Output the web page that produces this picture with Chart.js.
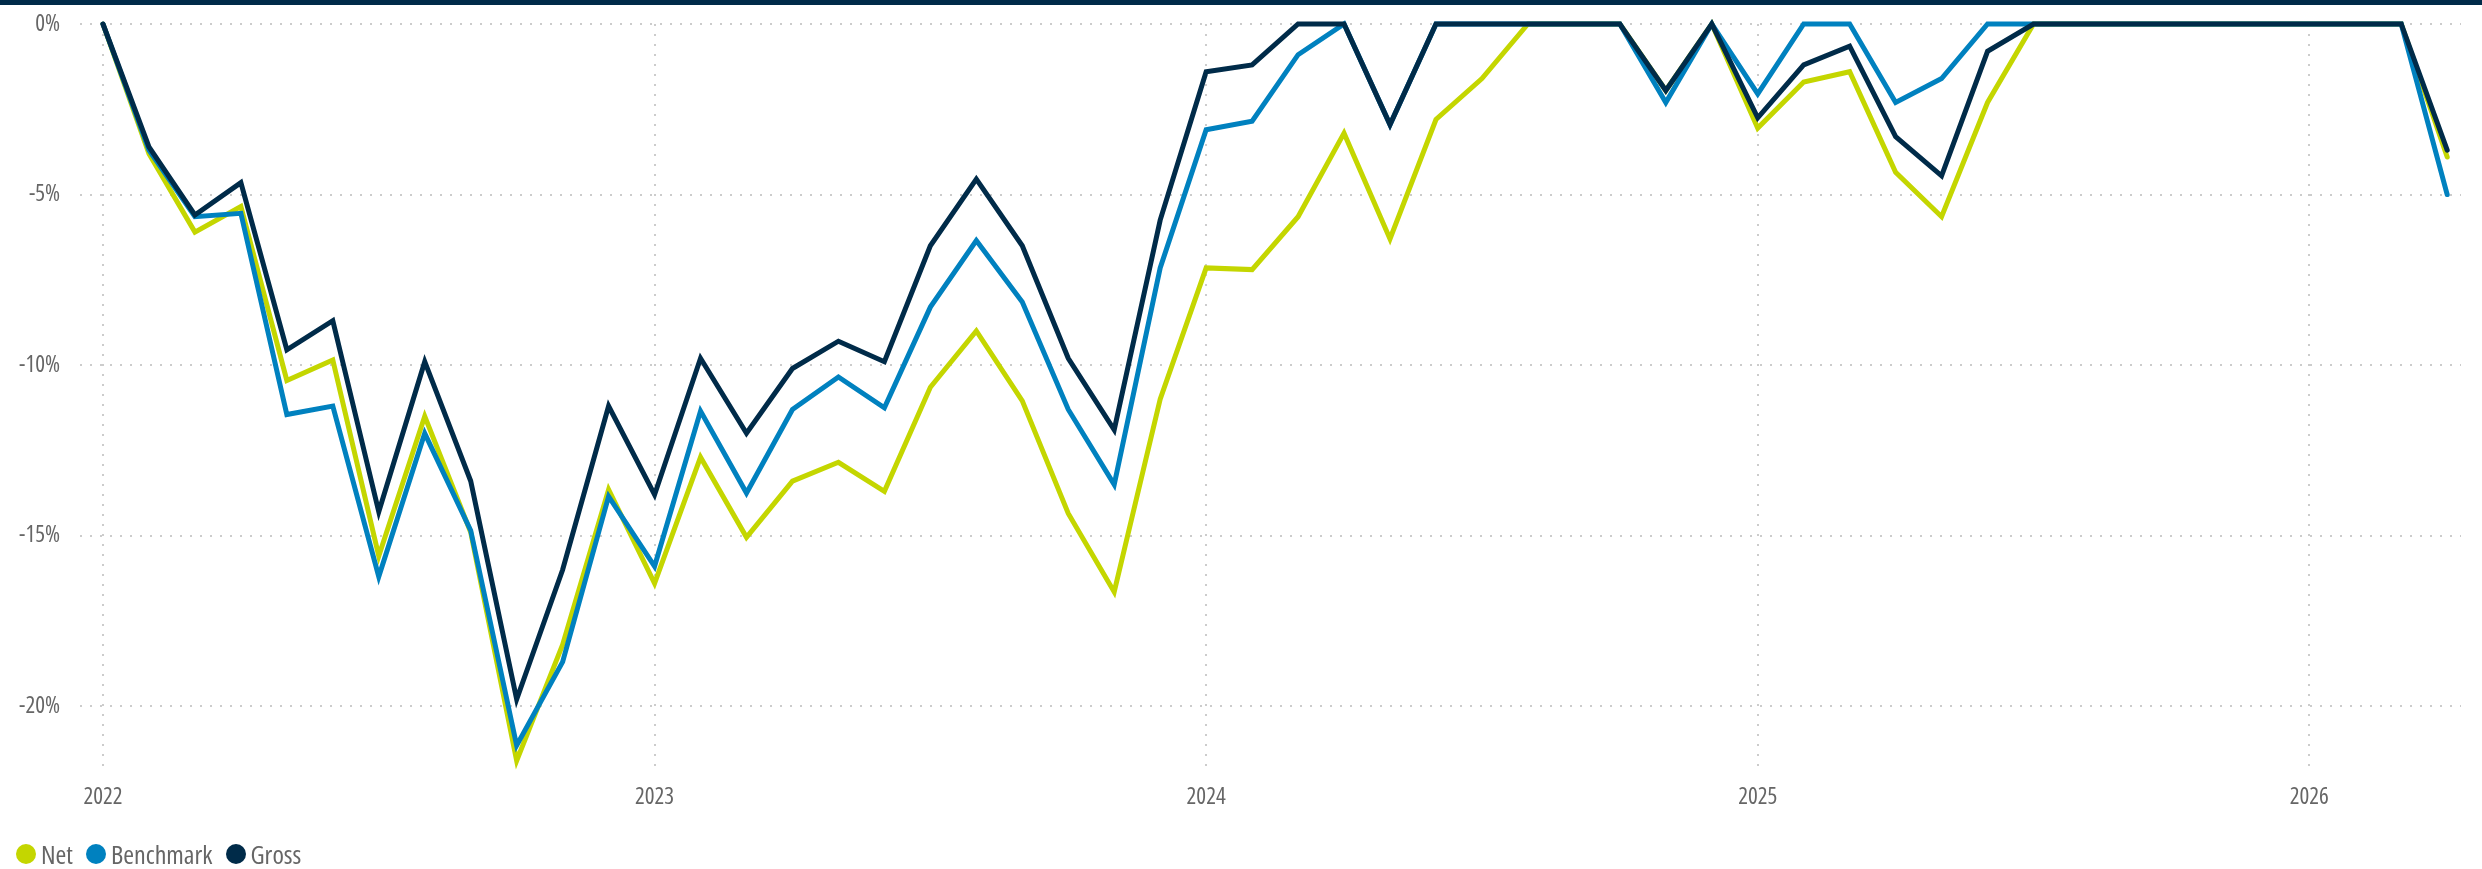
<!DOCTYPE html>
<html>
<head>
<meta charset="utf-8">
<script src="https://cdn.jsdelivr.net/npm/chart.js@4.4.1/dist/chart.umd.min.js"></script>
<style>
	html, body { margin: 0; padding: 0; background: #fff; }
	body { width: 2482px; height: 869px; position: relative; overflow: hidden; }
	#wrap { position: absolute; left: 0; top: 0; width: 2482px; height: 869px; }
	#topbar { position: absolute; left: 0; top: 0; width: 100%; height: 5px; background: #002b49; }
	#legend { position: absolute; left: 16px; top: 839px; display: flex; align-items: center;
		font-family: "Open Sans", sans-serif; font-stretch: 75%; font-size: 26px; line-height: 30px; color: #666; }
	#legend .item { display: flex; align-items: center; margin-right: 13px; }
	#legend .dot { width: 20px; height: 20px; border-radius: 50%; margin-right: 5px; }
</style>
</head>
<body>
<div id="wrap"><canvas id="drawdownChart"></canvas></div>
<div id="topbar"></div>
<div id="legend"></div>

<script>
// tick labels
const xYears = ['2022', '2023', '2024', '2025', '2026'];
const xTickPos = [0, 12, 24, 36, 48]; // month index of each January
const yTicks = [0, -5, -10, -15, -20];

// monthly drawdown (%), Jan 2022 -> Apr 2026
const gross = [
	0, -3.6, -5.6, -4.65, -9.55, -8.7, -14.3, -9.9, -13.4, -19.8,
	-16.0, -11.2, -13.8, -9.8, -12.0, -10.1, -9.3, -9.9, -6.5, -4.55,
	-6.5, -9.8, -11.9, -5.75, -1.4, -1.2, 0, 0, -2.95, 0,
	0, 0, 0, 0, -1.95, 0, -2.75, -1.2, -0.65, -3.3,
	-4.45, -0.8, 0, 0, 0, 0, 0, 0, 0, 0,
	0, -3.7
];
const benchmark = [
	0, -3.7, -5.65, -5.55, -11.45, -11.2, -16.2, -12.0, -14.85, -21.15,
	-18.7, -13.85, -15.9, -11.35, -13.75, -11.3, -10.35, -11.25, -8.3, -6.35,
	-8.15, -11.3, -13.5, -7.15, -3.1, -2.85, -0.9, 0, -2.95, 0,
	0, 0, 0, 0, -2.3, 0, -2.05, 0, 0, -2.3,
	-1.6, 0, 0, 0, 0, 0, 0, 0, 0, 0,
	0, -5.0
];
const net = [
	0, -3.8, -6.1, -5.35, -10.45, -9.85, -15.6, -11.5, -14.9, -21.6,
	-18.2, -13.65, -16.4, -12.7, -15.05, -13.4, -12.85, -13.7, -10.65, -9.0,
	-11.05, -14.35, -16.65, -11.0, -7.15, -7.2, -5.65, -3.2, -6.3, -2.8,
	-1.6, 0, 0, 0, -1.95, 0, -3.05, -1.7, -1.4, -4.35,
	-5.65, -2.3, 0, 0, 0, 0, 0, 0, 0, 0,
	0, -3.9
];

// condensed Open Sans (canvas accepts the stretch keyword in the font string)
const tickFont = { family: '"Open Sans", sans-serif', size: 23, weight: '400 condensed' };

function toPoints(values) {
	return values.map((v, i) => ({ x: i, y: v }));
}

function lineDataset(label, values, color) {
	return {
		label: label,
		data: toPoints(values),
		borderColor: color,
		backgroundColor: color,
		borderWidth: 5,
		borderCapStyle: 'round',
		pointRadius: 0,
		tension: 0,
		clip: false
	};
}

// first dataset is drawn on top
const datasets = [
	lineDataset('Gross', gross, '#002b49'),
	lineDataset('Benchmark', benchmark, '#0081bf'),
	lineDataset('Net', net, '#c4d600')
];

const ctx = document.getElementById('drawdownChart').getContext('2d');

const chart = new Chart(ctx, {
	type: 'line',
	data: { datasets: datasets },
	options: {
		animation: false,
		responsive: true,
		maintainAspectRatio: false,
		layout: {
			padding: { left: 0, right: 21, top: 24, bottom: 49 }
		},
		plugins: {
			legend: { display: false },
			tooltip: { enabled: false }
		},
		scales: {
			x: {
				type: 'linear',
				min: -0.5,
				max: 51.3,
				afterBuildTicks: axis => {
					axis.ticks = xTickPos.map(v => ({ value: v }));
				},
				ticks: {
					autoSkip: false,
					maxRotation: 0,
					padding: 9,
					color: '#666',
					font: tickFont,
					callback: v => xYears[xTickPos.indexOf(v)]
				},
				grid: {
					color: '#cccccc',
					lineWidth: 2,
					drawTicks: false
				},
				border: { display: false, dash: [2, 8] }
			},
			y: {
				min: -22,
				max: 0,
				afterBuildTicks: axis => {
					axis.ticks = yTicks.map(v => ({ value: v }));
				},
				afterFit: axis => {
					axis.width = 80;
				},
				ticks: {
					padding: 2,
					color: '#666',
					font: tickFont,
					callback: v => v + '%'
				},
				grid: {
					color: '#cccccc',
					lineWidth: 2,
					drawTicks: true,
					tickLength: 18,
					tickColor: 'rgba(0,0,0,0)'
				},
				border: { display: false, dash: [2, 8] }
			}
		}
	}
});

// legend in the order Net, Benchmark, Gross
const legend = document.getElementById('legend');
chart.data.datasets.slice().reverse().forEach(ds => {
	const item = document.createElement('div');
	item.className = 'item';
	const dot = document.createElement('span');
	dot.className = 'dot';
	dot.style.background = ds.borderColor;
	const text = document.createElement('span');
	text.textContent = ds.label;
	item.appendChild(dot);
	item.appendChild(text);
	legend.appendChild(item);
});
</script>
</body>
</html>
